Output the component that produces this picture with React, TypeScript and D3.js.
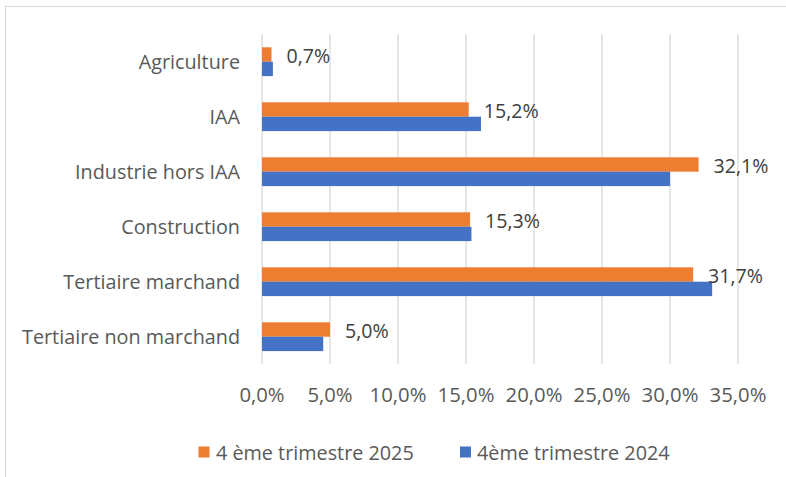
import React from "react";
import * as d3 from "d3";

const categories = [
  "Agriculture",
  "IAA",
  "Industrie hors IAA",
  "Construction",
  "Tertiaire marchand",
  "Tertiaire non marchand",
];
const series2025 = [0.7, 15.2, 32.1, 15.3, 31.7, 5.0];
const series2024 = [0.8, 16.1, 30.0, 15.4, 33.1, 4.5];
const seriesNames = ["4 ème trimestre 2025", "4ème trimestre 2024"];
const xTicks = [0, 5, 10, 15, 20, 25, 30, 35];

const W = 786;
const H = 477;
const ORANGE = "#ED7D31";
const BLUE = "#4472C4";
const GRID = "#D9D9D9";
const TEXT = "#595959";
const FONT = "'Open Sans', sans-serif";

const fmt = (v: number) => v.toFixed(1).replace(".", ",") + "%";

export default function App() {
  const x = d3.scaleLinear().domain([0, 35]).range([262, 738]);
  const y = d3.scaleBand().domain(categories).range([34.2, 364.2]).paddingInner(0).paddingOuter(0);
  const inner = d3
    .scaleBand()
    .domain(["2025", "2024"])
    .range([0, 28.8]);
  const barOffset = (y.bandwidth() - 28.8) / 2;

  return (
    <svg
      width={W}
      height={H}
      style={{ position: "absolute", left: 0, top: 0, background: "#fff" }}
      fontFamily={FONT}
    >
      <rect x={0} y={0} width={W} height={H} fill="#fff" />
      <rect x={5.5} y={6.5} width={W + 10} height={H + 10} fill="none" stroke={GRID} strokeWidth={1} />
      {xTicks.map((t) => (
        <g key={t}>
          <line x1={x(t)} x2={x(t)} y1={y.range()[0]} y2={y.range()[1]} stroke={GRID} strokeWidth={1.3} />
          <text x={x(t)} y={394} textAnchor="middle" dominantBaseline="central" fontSize={20.3} fill={TEXT}>
            {fmt(t)}
          </text>
        </g>
      ))}
      {categories.map((c, i) => {
        const y0 = (y(c) as number) + barOffset;
        const yo = y0 + (inner("2025") as number);
        const yb = y0 + (inner("2024") as number);
        return (
          <g key={c}>
            <text
              x={240}
              y={(y(c) as number) + y.bandwidth() / 2}
              textAnchor="end"
              dominantBaseline="central"
              fontSize={19.8}
              fill={TEXT}
            >
              {c}
            </text>
            <rect x={x(0)} y={yo} width={x(series2025[i]) - x(0)} height={inner.bandwidth()} fill={ORANGE} />
            <rect x={x(0)} y={yb} width={x(series2024[i]) - x(0)} height={inner.bandwidth()} fill={BLUE} />
            <text
              x={x(series2025[i]) + 15}
              y={yo + inner.bandwidth() / 2 + 1}
              dominantBaseline="central"
              fontSize={19.6}
              fill="#404040"
            >
              {fmt(series2025[i])}
            </text>
          </g>
        );
      })}
      <g>
        <rect x={198.5} y={446.5} width={11} height={11} fill={ORANGE} />
        <text x={216} y={452} dominantBaseline="central" fontSize={19.8} fill={TEXT}>
          {seriesNames[0]}
        </text>
        <rect x={460} y={446.5} width={11} height={11} fill={BLUE} />
        <text x={477} y={452} dominantBaseline="central" fontSize={19.8} fill={TEXT}>
          {seriesNames[1]}
        </text>
      </g>
    </svg>
  );
}
